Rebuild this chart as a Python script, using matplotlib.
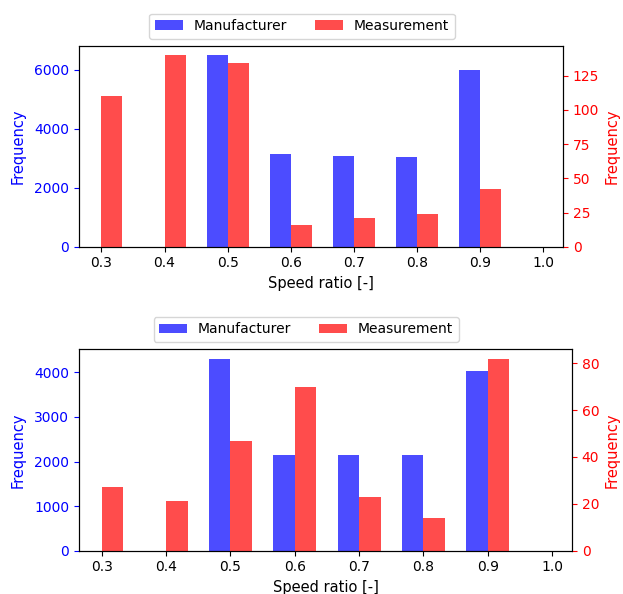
import matplotlib
matplotlib.use("Agg")
import matplotlib.pyplot as plt
from matplotlib.ticker import MaxNLocator
import numpy as np

speed_ratio = [0.3, 0.4, 0.5, 0.6, 0.7, 0.8, 0.9, 1.0]
tick_labels = ["0.3", "0.4", "0.5", "0.6", "0.7", "0.8", "0.9", "1.0"]

top_manufacturer = [0, 0, 6484, 3135, 3067, 3034, 5976, 0]
top_measurement = [110, 140, 134, 16, 21, 24, 42, 0]

bottom_manufacturer = [0, 0, 4308, 2151, 2151, 2151, 4038, 0]
bottom_measurement = [27, 21, 47, 70, 23, 14, 82, 0]

width = 1 / 30
blue = (0, 0, 1, 0.7)
red = (1, 0, 0, 0.7)

fig = plt.figure(figsize=(6.23, 5.94), dpi=100)
positions = [
    [0.1268, 0.5847, 0.7769, 0.3384],
    [0.1268, 0.0729, 0.7913, 0.3396],
]
datasets = [(top_manufacturer, top_measurement), (bottom_manufacturer, bottom_measurement)]

for pos, (manu, meas) in zip(positions, datasets):
    ax = fig.add_axes(pos)
    ax2 = ax.twinx()
    b1 = ax.bar(speed_ratio, manu, width=-width, align="edge", color=blue, label="Manufacturer")
    b2 = ax2.bar(speed_ratio, meas, width=width, align="edge", color=red, label="Measurement")
    ax.set_xticks(speed_ratio)
    ax.set_xticklabels(tick_labels)
    ax.set_xlim(0.3 - 0.0355, 1.0 + 0.031)
    ax.yaxis.set_major_locator(MaxNLocator(nbins=6, steps=[1, 2, 2.5, 5, 10]))
    ax2.yaxis.set_major_locator(MaxNLocator(nbins=6, steps=[1, 2, 2.5, 5, 10]))
    ax.set_xlabel("Speed ratio [-]", fontsize=10.5)
    ax.set_ylabel("Frequency", color="blue", fontsize=10.5, labelpad=6)
    ax.tick_params(axis="y", colors="blue")
    ax2.set_ylabel("Frequency", color="red", fontsize=10.5)
    ax2.tick_params(axis="y", colors="red")
    ax.legend([b1, b2], ["Manufacturer", "Measurement"], loc="lower center",
              bbox_to_anchor=(0.461, 1.0), ncol=2)

fig.savefig("out.png", dpi=100)
